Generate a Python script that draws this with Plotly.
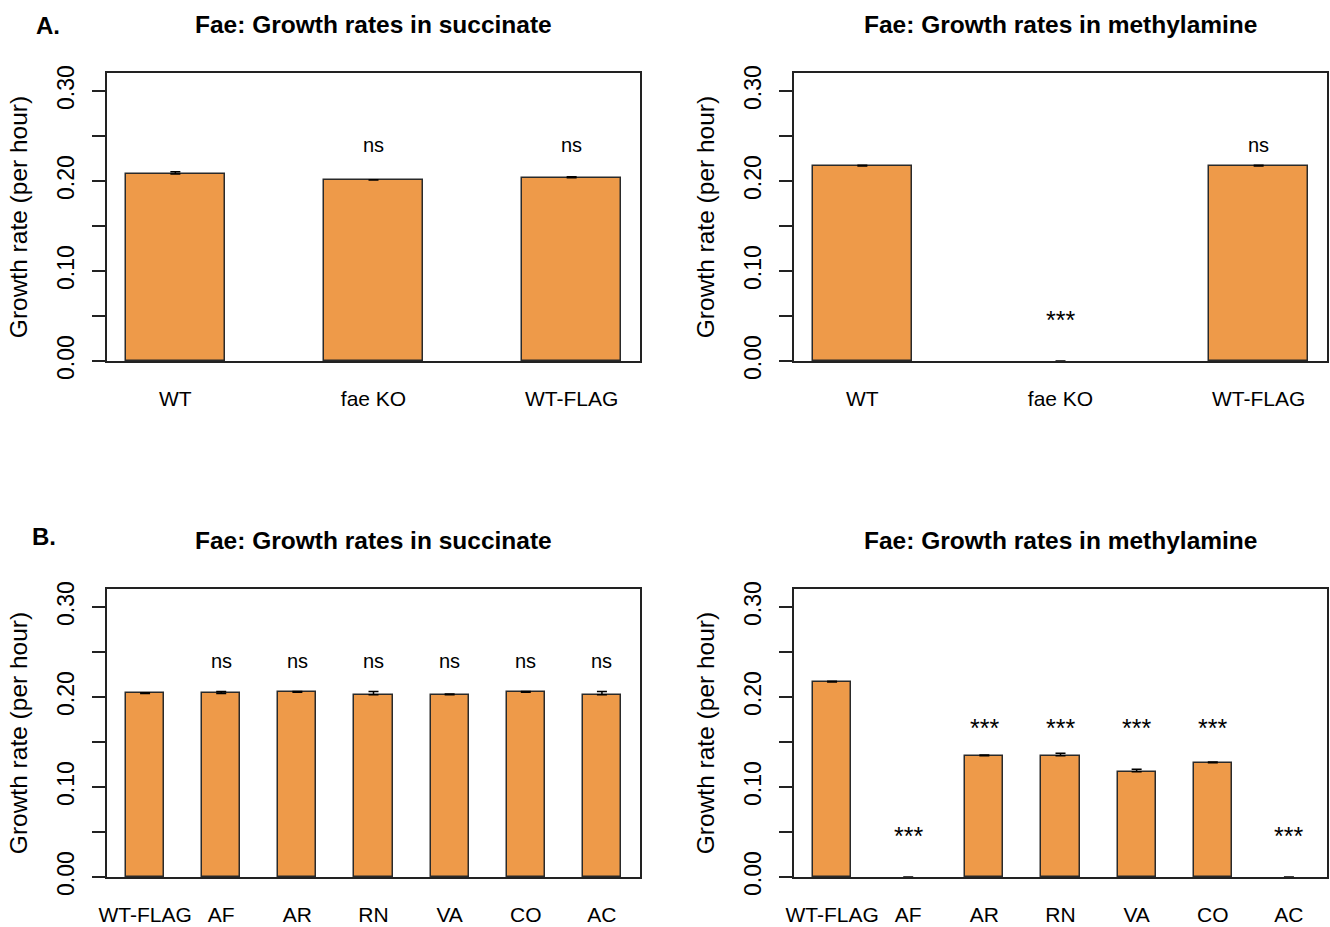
import plotly.graph_objects as go

# ---------------- data ----------------
cats_a = ["WT", "fae KO", "WT-FLAG"]
succ_a = [0.2078, 0.2010, 0.2035]
succ_a_err = [0.0025, 0.0005, 0.0012]
succ_a_sig = ["", "ns", "ns"]

meth_a = [0.2167, 0.0, 0.2167]
meth_a_err = [0.0008, 0.0, 0.0008]
meth_a_sig = ["", "***", "ns"]

cats_b = ["WT-FLAG", "AF", "AR", "RN", "VA", "CO", "AC"]
succ_b = [0.2040, 0.2040, 0.2052, 0.2026, 0.2026, 0.2052, 0.2026]
succ_b_err = [0.0008, 0.0022, 0.0008, 0.0035, 0.0008, 0.0008, 0.0035]
succ_b_sig = ["", "ns", "ns", "ns", "ns", "ns", "ns"]

meth_b = [0.2167, 0.0, 0.1348, 0.1348, 0.1170, 0.1270, 0.0]
meth_b_err = [0.0008, 0.0, 0.0008, 0.0028, 0.0028, 0.0008, 0.0]
meth_b_sig = ["", "***", "***", "***", "***", "***", "***"]

# heights at which significance labels are written
sig_y_ns = 0.24
sig_y_zero = 0.045
sig_y_mid = 0.165

y_ticks = [0.00, 0.05, 0.10, 0.15, 0.20, 0.25, 0.30]
y_tick_text = ["0.00", "", "0.10", "", "0.20", "", "0.30"]

titles = ["Fae: Growth rates in succinate", "Fae: Growth rates in methylamine",
          "Fae: Growth rates in succinate", "Fae: Growth rates in methylamine"]
ylabel = "Growth rate (per hour)"

# ---------------- layout ----------------
W, H = 1330, 927
FONT = "Liberation Sans, Arial, sans-serif"
BAR = "#EE9A49"

def px_x(p):
    return p / W

def px_y(p):
    return 1 - p / H

dom_x = [[px_x(107), px_x(640)], [px_x(794), px_x(1327)]]
dom_y = [[px_y(361), px_y(73)], [px_y(877), px_y(589)]]

fig = go.Figure()

panels = [
    (cats_a, succ_a, succ_a_err, succ_a_sig, 0, 0),
    (cats_a, meth_a, meth_a_err, meth_a_sig, 0, 1),
    (cats_b, succ_b, succ_b_err, succ_b_sig, 1, 0),
    (cats_b, meth_b, meth_b_err, meth_b_sig, 1, 1),
]

annotations = []
for i, (cats, vals, errs, sigs, row, col) in enumerate(panels):
    n = i + 1
    xa = "x" if n == 1 else f"x{n}"
    ya = "y" if n == 1 else f"y{n}"
    idx = list(range(len(cats)))
    err_plot = [e if v > 0 else None for e, v in zip(errs, vals)]
    line_w = [1.5 if v > 0 else 0 for v in vals]
    fig.add_trace(go.Bar(
        x=idx, y=vals, width=0.5,
        marker=dict(color=BAR, line=dict(color="#2a2a2a", width=line_w)),
        error_y=dict(type="data", array=err_plot, arrayminus=[0] * len(errs),
                     symmetric=False, color="black", thickness=1.5, width=5),
        xaxis=xa, yaxis=ya, showlegend=False, hoverinfo="skip",
    ))
    # significance labels
    for j, s in enumerate(sigs):
        if not s:
            continue
        if s == "ns":
            yy = sig_y_ns
        elif vals[j] == 0:
            yy = sig_y_zero
        else:
            yy = sig_y_mid
        annotations.append(dict(
            x=j, y=yy, xref=xa, yref=ya, text=s, showarrow=False,
            font=dict(family=FONT, size=(20 if s == "ns" else 25), color="black"),
            xanchor="center", yanchor="middle",
            yshift=(0 if s == "ns" else 1),
        ))
    xr = [-0.345, 2.345] if len(cats) == 3 else [-0.5, 6.5]
    ax_common = dict(showline=True, mirror=True, linecolor="#222222", linewidth=1.5,
                     showgrid=False, zeroline=False, automargin=False)
    fig.layout[("xaxis" if n == 1 else f"xaxis{n}")] = dict(
        domain=dom_x[col], anchor=ya, range=xr,
        tickvals=idx, ticktext=cats, ticks="",
        tickfont=dict(family=FONT, size=21, color="black"),
        ticklabelstandoff=18, fixedrange=True, **ax_common)
    fig.layout[("yaxis" if n == 1 else f"yaxis{n}")] = dict(
        domain=dom_y[row], anchor=xa, range=[0, 0.32],
        tickvals=y_ticks, ticktext=y_tick_text, ticks="outside", ticklen=13,
        tickwidth=1.5, tickcolor="#222222", tickangle=-90,
        tickfont=dict(family=FONT, size=23, color="black"),
        ticklabelstandoff=9,
        title=dict(text=ylabel, font=dict(family=FONT, size=24.5, color="black"),
                   standoff=18),
        fixedrange=True, **ax_common)
    # panel title
    cx = (dom_x[col][0] + dom_x[col][1]) / 2
    ty = px_y(24) if row == 0 else px_y(540)
    annotations.append(dict(
        x=cx, y=ty, xref="paper", yref="paper", text=f"<b>{titles[i]}</b>",
        showarrow=False, xanchor="center", yanchor="middle",
        font=dict(family=FONT, size=24.5, color="black"),
    ))

annotations.append(dict(x=px_x(48), y=px_y(25), xref="paper", yref="paper",
                        text="<b>A.</b>", showarrow=False, xanchor="center",
                        yanchor="middle", font=dict(family=FONT, size=24, color="black")))
annotations.append(dict(x=px_x(44), y=px_y(536), xref="paper", yref="paper",
                        text="<b>B.</b>", showarrow=False, xanchor="center",
                        yanchor="middle", font=dict(family=FONT, size=24, color="black")))

fig.update_layout(
    width=W, height=H,
    margin=dict(l=0, r=0, t=0, b=0),
    paper_bgcolor="white", plot_bgcolor="white",
    annotations=annotations,
    bargap=0,
)

fig.write_html("out.html", config={"displayModeBar": False})
